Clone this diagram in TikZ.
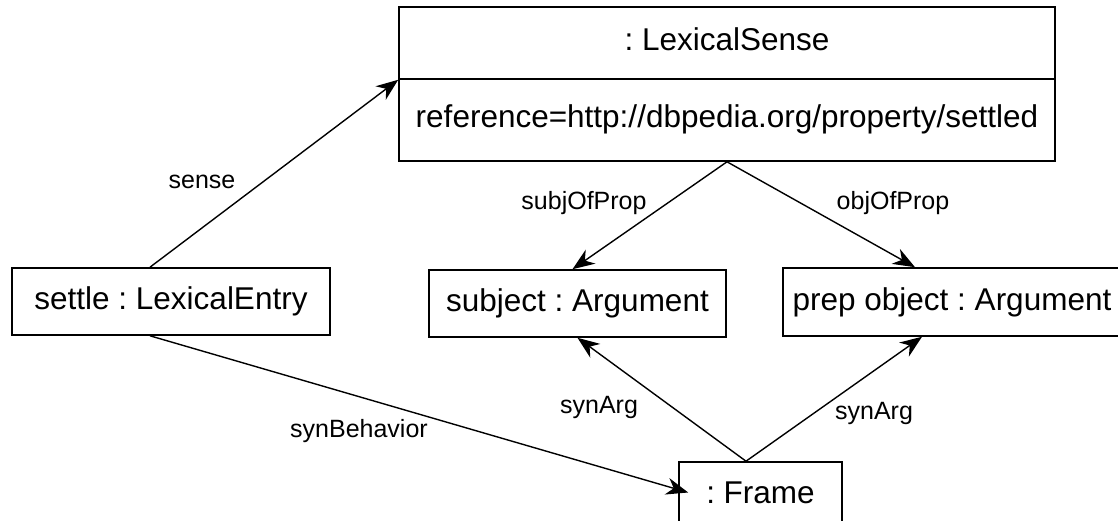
\documentclass[tikz,border=0pt]{standalone}
\usepackage{fontspec}
\setmainfont{Liberation Sans}
\usetikzlibrary{arrows.meta}
\frenchspacing
\begin{document}
\begin{tikzpicture}[x=1pt,y=-1pt,
  box/.style={draw, line width=1.6pt, inner sep=0pt, font=\frenchspacing\fontsize{31.5}{38}\selectfont, text height=23pt, text depth=7pt},
  lbl/.style={inner sep=0pt, font=\fontsize{25}{30}\selectfont},
  conn/.style={line width=1.4pt, -{Stealth[length=22pt,width=17pt,inset=7pt]}}]
\useasboundingbox (0,0) rectangle (1118,521);
% nodes
\node[box, minimum width=656pt, minimum height=72pt] (lstop) at (727,43) {: LexicalSense};
\node[box, minimum width=656pt, minimum height=82pt] (lsbot) at (727,120) {reference=http://dbpedia.org/property/settled};
\node[box, minimum width=318pt, minimum height=67pt] (settle) at (171,301.5) {settle : LexicalEntry};
\node[box, minimum width=297pt, minimum height=67pt] (subject) at (577.5,303.5) {subject : Argument};
\node[box, minimum width=338pt, minimum height=68pt] (prep) at (952,302) {prep object : Argument};
\node[box, minimum width=163pt, minimum height=67pt] (frame) at (760.5,495.5) {: Frame};
% connectors
\draw[conn] ([xshift=-21pt]settle.north) -- (lstop.south west);
\draw[conn] (lsbot.south) -- ([xshift=-5pt]subject.north);
\draw[conn] (lsbot.south) -- ([xshift=-37pt]prep.north);
\draw[conn] ([xshift=-21pt]settle.south) -- ([xshift=10pt,yshift=3pt]frame.west);
\draw[conn] ([xshift=-14.5pt]frame.north) -- (subject.south);
\draw[conn] ([xshift=-14.5pt]frame.north) -- ([xshift=-30pt]prep.south);
% labels
\node[lbl] (lsense) at (202,182) {sense};
\node[lbl] (lsubj) at (584,203) {subjOfProp};
\node[lbl] (lobj) at (893,203) {objOfProp};
\node[lbl] (lsyn1) at (599,407) {synArg};
\node[lbl] (lsyn2) at (874,413) {synArg};
\node[lbl, anchor=west] (lbeh) at (290,431) {synBehavior};
\end{tikzpicture}
\end{document}
